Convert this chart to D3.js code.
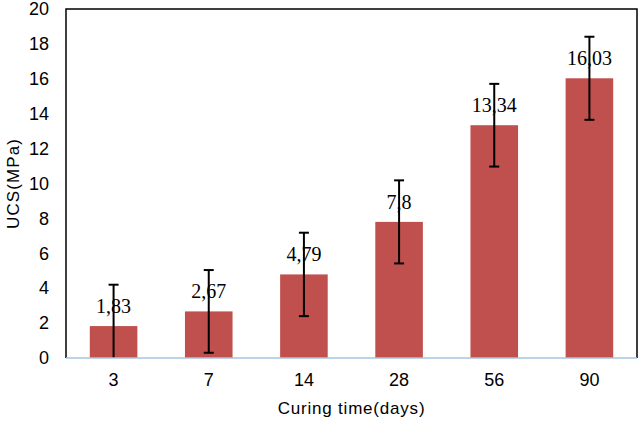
<!DOCTYPE html>
<html>
<head>
<meta charset="utf-8">
<script src="https://cdn.jsdelivr.net/npm/d3@7"></script>
<style>
  body { margin: 0; background: #fff; }
  svg { display: block; }
</style>
</head>
<body>
<svg id="chart" width="640" height="424"></svg>
<script>
// curing time categories, mean UCS and error (std dev)
var days = ['3', '7', '14', '28', '56', '90'];
var ucs = [1.83, 2.67, 4.79, 7.8, 13.34, 16.03];
var errs = [2.37, 2.37, 2.39, 2.38, 2.37, 2.38];
var labels = ['1,83', '2,67', '4,79', '7,8', '13,34', '16,03'];
var yTicks = [0, 2, 4, 6, 8, 10, 12, 14, 16, 18, 20];

var margin = {top: 9, right: 3, bottom: 66, left: 66};
var svg = d3.select('#chart');
var W = +svg.attr('width'), H = +svg.attr('height');
var w = W - margin.left - margin.right;
var h = H - margin.top - margin.bottom;
var sans = '"Liberation Sans", Arial, sans-serif';

var g = svg.append('g')
    .attr('transform', 'translate(' + margin.left + ',' + margin.top + ')');

var x = d3.scaleBand().domain(days).range([0, w]).paddingInner(0.5).paddingOuter(0.25);
var y = d3.scaleLinear().domain([0, 20]).range([h, 0]);

var rows = days.map(function(d, i) {
    return {day: d, v: ucs[i], e: errs[i], label: labels[i]};
});

// bars
g.selectAll('rect.bar')
    .data(rows)
    .enter().append('rect')
    .attr('class', 'bar')
    .attr('x', function(d) { return x(d.day); })
    .attr('y', function(d) { return y(d.v); })
    .attr('width', x.bandwidth())
    .attr('height', function(d) { return h - y(d.v); })
    .attr('fill', '#c0504d');

// value labels
g.selectAll('text.val')
    .data(rows)
    .enter().append('text')
    .attr('class', 'val')
    .attr('x', function(d) { return x(d.day) + x.bandwidth() / 2; })
    .attr('y', function(d) { return y(d.v) - 13; })
    .attr('text-anchor', 'middle')
    .attr('font-family', '"Liberation Serif", "DejaVu Serif", serif')
    .attr('font-size', 20)
    .attr('fill', '#000')
    .text(function(d) { return d.label; });

// error bars (clipped at zero, no cap there)
var eb = g.selectAll('g.err')
    .data(rows)
    .enter().append('g')
    .attr('class', 'err')
    .attr('transform', function(d) { return 'translate(' + (x(d.day) + x.bandwidth() / 2) + ',0)'; })
    .attr('stroke', '#000')
    .attr('stroke-width', 2);

eb.append('line')
    .attr('x1', 0).attr('x2', 0)
    .attr('y1', function(d) { return y(d.v + d.e); })
    .attr('y2', function(d) { return y(Math.max(0, d.v - d.e)); });
eb.append('line')
    .attr('x1', -5).attr('x2', 5)
    .attr('y1', function(d) { return y(d.v + d.e); })
    .attr('y2', function(d) { return y(d.v + d.e); });
eb.filter(function(d) { return d.v - d.e > 0; })
    .append('line')
    .attr('x1', -5).attr('x2', 5)
    .attr('y1', function(d) { return y(d.v - d.e); })
    .attr('y2', function(d) { return y(d.v - d.e); });

// frame: black left, top, right; light blue bottom
g.append('path')
    .attr('d', 'M0,' + h + 'V0H' + w + 'V' + h)
    .attr('fill', 'none')
    .attr('stroke', '#000')
    .attr('stroke-width', 1.5);
g.append('line')
    .attr('x1', 0).attr('x2', w)
    .attr('y1', h).attr('y2', h)
    .attr('stroke', '#a9c4de')
    .attr('stroke-width', 1.5);

// y axis ticks
var yAxis = g.append('g')
    .call(d3.axisLeft(y).tickValues(yTicks).tickSize(0).tickPadding(17));
yAxis.select('.domain').remove();
yAxis.selectAll('text')
    .attr('font-family', sans)
    .attr('font-size', 18)
    .attr('fill', '#000');

// x axis ticks
var xAxis = g.append('g')
    .attr('transform', 'translate(0,' + h + ')')
    .call(d3.axisBottom(x).tickSize(0).tickPadding(15));
xAxis.select('.domain').remove();
xAxis.selectAll('text')
    .attr('font-family', sans)
    .attr('font-size', 18)
    .attr('fill', '#000');

// axis titles
svg.append('text')
    .attr('transform', 'translate(19,' + (margin.top + h / 2) + ') rotate(-90)')
    .attr('text-anchor', 'middle')
    .attr('font-family', sans)
    .attr('font-size', 17)
    .attr('letter-spacing', 1.1)
    .text('UCS(MPa)');

svg.append('text')
    .attr('x', margin.left + w / 2)
    .attr('y', 414)
    .attr('text-anchor', 'middle')
    .attr('font-family', sans)
    .attr('font-size', 17)
    .attr('letter-spacing', 0.8)
    .text('Curing time(days)');
</script>
</body>
</html>
